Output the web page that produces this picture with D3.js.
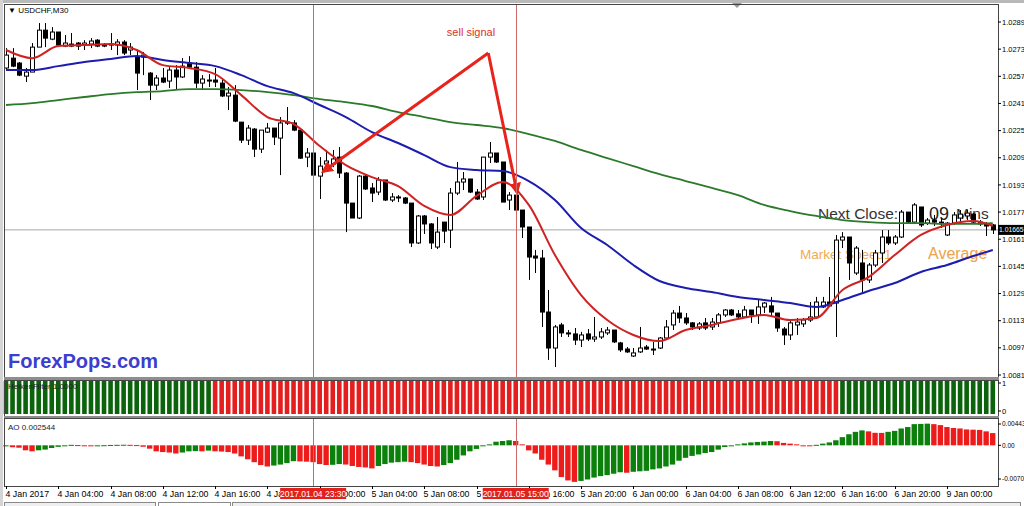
<!DOCTYPE html>
<html>
<head>
<meta charset="utf-8">
<script src="https://cdn.jsdelivr.net/npm/d3@7"></script>
<style>
  body { margin: 0; background: #fff; }
  svg text { font-family: "Liberation Sans", Arial, sans-serif; }
</style>
</head>
<body>
<script>
// USDCHF M30, 4 Jan 2017 00:00 .. 9 Jan 2017 03:30, one value per bar
const openP = [1.02619,1.02677,1.02648,1.02571,1.02595,1.02742,1.02842,1.02789,1.02831,1.02748,1.02760,1.02766,1.02754,1.02760,1.02783,1.02754,1.02754,1.02754,1.02772,1.02725,
  1.02683,1.02683,1.02589,1.02518,1.02560,1.02542,1.02607,1.02566,1.02648,1.02624,1.02530,1.02548,1.02548,1.02530,1.02454,1.02459,1.02300,1.02194,1.02259,1.02141,
  1.02241,1.02265,1.02206,1.02300,1.02295,1.02253,1.02094,1.02118,1.01982,1.02053,1.02053,1.02094,1.02000,1.01823,1.01735,1.01982,1.01912,1.01888,1.01959,1.01841,
  1.01859,1.01853,1.01823,1.01588,1.01747,1.01700,1.01564,1.01711,1.01664,1.01882,1.01947,1.01965,1.01888,1.01859,1.02094,1.02118,1.02065,1.01841,1.01870,1.01782,
  1.01682,1.01511,1.01499,1.01181,1.00969,1.01105,1.01058,1.01052,1.01016,1.01052,1.01022,1.01034,1.01058,1.01075,1.00999,1.00963,1.00922,1.00946,1.00975,1.00963,
  1.00969,1.01028,1.01105,1.01175,1.01146,1.01117,1.01087,1.01117,1.01093,1.01117,1.01164,1.01193,1.01170,1.01152,1.01193,1.01164,1.01211,1.01217,1.01175,1.01081,
  1.01046,1.01105,1.01111,1.01134,1.01152,1.01211,1.01240,1.01234,1.01605,1.01623,1.01411,1.01470,1.01370,1.01458,1.01529,1.01623,1.01588,1.01623,1.01770,1.01711,
  1.01800,1.01705,1.01723,1.01711,1.01635,1.01705,1.01735,1.01747,1.01758,1.01711,1.01700,1.01694];
const highP = [1.02736,1.02736,1.02654,1.02619,1.02766,1.02884,1.02884,1.02860,1.02831,1.02813,1.02825,1.02772,1.02783,1.02795,1.02789,1.02766,1.02825,1.02789,1.02783,1.02766,
  1.02725,1.02713,1.02595,1.02577,1.02619,1.02624,1.02636,1.02677,1.02689,1.02654,1.02577,1.02583,1.02619,1.02560,1.02507,1.02518,1.02300,1.02283,1.02265,1.02253,
  1.02295,1.02265,1.02330,1.02389,1.02312,1.02253,1.02147,1.02118,1.02094,1.02136,1.02136,1.02153,1.02006,1.01823,1.01988,1.01988,1.01941,1.01976,1.01959,1.01882,
  1.01870,1.01859,1.01823,1.01753,1.01753,1.01705,1.01741,1.01711,1.01912,1.02065,1.02006,1.01965,1.01906,1.02094,1.02183,1.02118,1.02065,1.01888,1.01870,1.01782,
  1.01682,1.01547,1.01547,1.01311,1.01105,1.01117,1.01075,1.01087,1.01064,1.01081,1.01152,1.01087,1.01093,1.01075,1.01005,1.00975,1.00969,1.01093,1.00987,1.01005,
  1.01034,1.01134,1.01193,1.01217,1.01175,1.01122,1.01122,1.01146,1.01146,1.01175,1.01199,1.01199,1.01193,1.01217,1.01193,1.01252,1.01240,1.01270,1.01175,1.01093,
  1.01134,1.01146,1.01146,1.01240,1.01270,1.01270,1.01387,1.01635,1.01652,1.01623,1.01570,1.01547,1.01470,1.01547,1.01664,1.01664,1.01635,1.01782,1.01770,1.01823,
  1.01800,1.01735,1.01753,1.01735,1.01711,1.01770,1.01782,1.01782,1.01764,1.01723,1.01711,1.01700];
const lowP = [1.02607,1.02624,1.02571,1.02536,1.02595,1.02742,1.02742,1.02783,1.02742,1.02742,1.02742,1.02725,1.02725,1.02736,1.02742,1.02742,1.02725,1.02695,1.02695,1.02695,
  1.02489,1.02577,1.02430,1.02489,1.02530,1.02501,1.02489,1.02560,1.02619,1.02501,1.02489,1.02507,1.02507,1.02448,1.02371,1.02300,1.02177,1.02165,1.02094,1.02118,
  1.02236,1.02165,1.01988,1.02283,1.02247,1.02083,1.02035,1.01982,1.01847,1.02041,1.02035,1.01971,1.01652,1.01735,1.01729,1.01900,1.01829,1.01870,1.01835,1.01829,
  1.01829,1.01817,1.01564,1.01582,1.01641,1.01552,1.01552,1.01588,1.01558,1.01870,1.01900,1.01882,1.01841,1.01841,1.02059,1.02059,1.01829,1.01782,1.01782,1.01617,
  1.01370,1.01411,1.01093,1.00899,1.00857,1.01034,1.01034,1.00987,1.00975,1.01010,1.01005,1.01022,1.01046,1.00999,1.00946,1.00940,1.00916,1.00940,1.00958,1.00928,
  1.00963,1.01016,1.01075,1.01117,1.01105,1.01075,1.01075,1.01075,1.01075,1.01093,1.01152,1.01158,1.01146,1.01146,1.01117,1.01111,1.01175,1.01152,1.01064,1.00987,
  1.01016,1.01046,1.01093,1.01122,1.01152,1.01205,1.01211,1.01034,1.01558,1.01370,1.01399,1.01293,1.01352,1.01446,1.01470,1.01576,1.01576,1.01617,1.01705,1.01705,
  1.01682,1.01694,1.01688,1.01676,1.01629,1.01694,1.01711,1.01723,1.01700,1.01688,1.01629,1.01641];
const closeP = [1.02695,1.02630,1.02577,1.02595,1.02742,1.02842,1.02795,1.02831,1.02754,1.02766,1.02748,1.02748,1.02766,1.02778,1.02748,1.02750,1.02760,1.02772,1.02707,1.02742,
  1.02589,1.02695,1.02518,1.02560,1.02536,1.02607,1.02566,1.02630,1.02624,1.02530,1.02554,1.02546,1.02536,1.02454,1.02471,1.02306,1.02194,1.02265,1.02141,1.02253,
  1.02265,1.02212,1.02295,1.02295,1.02253,1.02088,1.02118,1.01988,1.02041,1.02071,1.02083,1.02000,1.01823,1.01735,1.01982,1.01906,1.01882,1.01959,1.01841,1.01859,
  1.01853,1.01823,1.01588,1.01747,1.01700,1.01588,1.01652,1.01658,1.01882,1.01947,1.01965,1.01888,1.01847,1.02094,1.02118,1.02065,1.01829,1.01870,1.01782,1.01682,
  1.01505,1.01499,1.01181,1.00969,1.01093,1.01058,1.01052,1.01016,1.01046,1.01022,1.01034,1.01064,1.01075,1.01005,1.00958,1.00946,1.00940,1.00969,1.00963,1.00958,
  1.01028,1.01093,1.01175,1.01146,1.01117,1.01093,1.01111,1.01087,1.01122,1.01164,1.01193,1.01164,1.01152,1.01193,1.01164,1.01211,1.01234,1.01181,1.01087,1.01046,
  1.01117,1.01122,1.01134,1.01152,1.01240,1.01240,1.01217,1.01605,1.01623,1.01470,1.01558,1.01370,1.01458,1.01529,1.01623,1.01588,1.01623,1.01770,1.01711,1.01812,
  1.01694,1.01723,1.01711,1.01700,1.01705,1.01753,1.01758,1.01764,1.01711,1.01700,1.01688,1.01665];

// moving averages, read every 4 bars
const maBars = [0,4,8,12,16,20,24,28,32,36,40,44,48,52,56,60,64,68,72,76,80,84,88,92,96,100,104,108,112,116,120,124,128,132,136,140,144,148,151];
const fastMA = [1.02725,1.02677,1.02748,1.02754,1.02760,1.02725,1.02636,1.02619,1.02583,1.02459,1.02330,1.02289,1.02159,1.02047,1.01976,1.01923,1.01806,1.01753,1.01865,1.01947,
  1.01812,1.01517,1.01281,1.01134,1.01046,1.01010,1.01075,1.01105,1.01140,1.01164,1.01134,1.01146,1.01311,1.01387,1.01517,1.01635,1.01694,1.01717,1.01688];
const midMA = [1.02607,1.02607,1.02630,1.02654,1.02672,1.02689,1.02666,1.02648,1.02630,1.02577,1.02512,1.02471,1.02401,1.02330,1.02241,1.02177,1.02106,1.02035,1.02018,1.02012,
  1.01953,1.01841,1.01676,1.01576,1.01458,1.01364,1.01323,1.01299,1.01270,1.01252,1.01234,1.01211,1.01252,1.01305,1.01352,1.01417,1.01458,1.01511,1.01547];
const slowMA = [1.02401,1.02412,1.02430,1.02448,1.02465,1.02477,1.02483,1.02495,1.02495,1.02489,1.02477,1.02459,1.02436,1.02418,1.02395,1.02359,1.02330,1.02300,1.02283,1.02265,
  1.02230,1.02189,1.02136,1.02088,1.02041,1.01994,1.01953,1.01912,1.01870,1.01812,1.01776,1.01747,1.01723,1.01711,1.01705,1.01705,1.01700,1.01700,1.01705];

// filter state runs: [bars, up]
const filterRuns = [[32, 1], [96, 0], [24, 1]];

// Awesome Oscillator per bar
const aoValues = [-0.0002,-0.0004,-0.0005,-0.00104,-0.00125,-0.00104,-0.00089,-0.00056,-0.00031,-0.0001,0.0001,0.00005,-0.0001,-0.0002,-0.0001,0.00002,0.00008,0.0001,0.00012,0.0001,
  0.00005,-0.0003,-0.0007,-0.00125,-0.0014,-0.0015,-0.0017,-0.0015,-0.00125,-0.0012,-0.00125,-0.0011,-0.00125,-0.0013,-0.0014,-0.0017,-0.0023,-0.0029,-0.0035,-0.0041,
  -0.0044,-0.0042,-0.0040,-0.0037,-0.0033,-0.00335,-0.0034,-0.0035,-0.0039,-0.0041,-0.00405,-0.0039,-0.0040,-0.0043,-0.0045,-0.0046,-0.0048,-0.0043,-0.0039,-0.0036,
  -0.0035,-0.0034,-0.0035,-0.0037,-0.0040,-0.0043,-0.0044,-0.0041,-0.0037,-0.0030,-0.0021,-0.00125,-0.00075,-0.0002,0.0002,0.00075,0.0009,0.00105,0.0009,0.0002,
  -0.00105,-0.0017,-0.0030,-0.0040,-0.0052,-0.0066,-0.0073,-0.0076,-0.0074,-0.0071,-0.0067,-0.0064,-0.0062,-0.0059,-0.0056,-0.0057,-0.0055,-0.0054,-0.0053,-0.0050,
  -0.0048,-0.0044,-0.0040,-0.0032,-0.0026,-0.0022,-0.0019,-0.0016,-0.0014,-0.0009,-0.00035,-0.0001,0.0002,0.0004,0.0006,0.0007,0.00077,0.0009,0.00085,0.0005,
  0.00035,0.0002,0.0000,-0.00006,0.0001,0.00035,0.0006,0.00105,0.0017,0.0023,0.0028,0.0031,0.0029,0.0026,0.00258,0.0028,0.0030,0.0035,0.0038,0.0044,
  0.00445,0.0045,0.0044,0.0042,0.0038,0.0036,0.0035,0.0033,0.00325,0.0032,0.0029,0.002544];

const priceTicks = [1.0289,1.0273,1.0257,1.0241,1.0225,1.0209,1.0193,1.0177,1.0161,1.0145,1.0129,1.0113,1.0097,1.0081];
const priceTickLabels = ["1.0289","1.0273","1.0257","1.0241","1.0225","1.0209","1.0193","1.0177","1.0161","1.0145","1.0129","1.0113","1.0097","1.0081"];
const aoTicks = [0.00443, 0, -0.0070];
const aoTickLabels = ["0.00443", "0.00", "-0.0070"];
const timeLabels = ["4 Jan 2017","4 Jan 04:00","4 Jan 08:00","4 Jan 12:00","4 Jan 16:00","4 Jan 20:00","5 Jan 00:00","5 Jan 04:00","5 Jan 08:00","5 Jan 12:00",
  "5 Jan 16:00","5 Jan 20:00","6 Jan 00:00","6 Jan 04:00","6 Jan 08:00","6 Jan 12:00","6 Jan 16:00","6 Jan 20:00","9 Jan 00:00"];
const barsPerLabel = 8;

// vertical marker lines
const markerBars = [47, 78];
const markerLabels = ["2017.01.04 23:30", "2017.01.05 15:00"];
// sell signal drawing: [bar, price]
const signalLeft = [48.5, 1.02008];
const signalTop = [73.8, 1.02707];
const signalRight = [78.2, 1.01885];
const currentPrice = 1.01665;

const W = 1024, H = 506;
const left = 4, right = 998;
const main = { top: 4, bottom: 377 };
const filt = { top: 380, bottom: 416 };
const aoP = { top: 418, bottom: 486 };

const svg = d3.select("body").append("svg")
  .attr("width", W).attr("height", H)
  .style("display", "block");

svg.append("rect").attr("width", W).attr("height", H).attr("fill", "#fff");
// window frame
svg.append("rect").attr("x", 0).attr("y", 0).attr("width", W).attr("height", 3).attr("fill", "#b9b9b9");
svg.append("rect").attr("x", 0).attr("y", 0).attr("width", 3).attr("height", H).attr("fill", "#d4d4d4");
svg.append("path").attr("d", "M732,3 L742,3 L737,8 Z").attr("fill", "#9a9a9a");

const x = d3.scaleLinear().domain([0, 151]).range([6, 6 + 151 * 6.535]);
const y = d3.scaleLinear().domain([1.0081, 1.0289]).range([375, 22]);
const yF = d3.scaleLinear().domain([0, 1]).range([filt.bottom - 2, filt.top + 1]);
const yA = d3.scaleLinear().domain([-0.0070, 0.00443]).range([479, 424]);

const boxW = 66;
const defs = svg.append("defs");
defs.append("clipPath").attr("id", "clipMain").append("rect")
  .attr("x", left).attr("y", main.top).attr("width", right - left).attr("height", main.bottom - main.top);
defs.append("marker").attr("id", "arrowHead")
  .attr("viewBox", "0 0 10 10").attr("refX", 8).attr("refY", 5)
  .attr("markerWidth", 4).attr("markerHeight", 4).attr("orient", "auto")
  .append("path").attr("d", "M0,0 L10,5 L0,10 Z").attr("fill", "#e8231c");
// time labels are hidden under the red marker boxes
const gaps = [0].concat(markerBars.flatMap(b => [x(b) - boxW / 2, x(b) + boxW / 2])).concat([W]);
const timeClip = defs.append("clipPath").attr("id", "clipTime");
for (let k = 0; k < gaps.length; k += 2) {
  timeClip.append("rect").attr("x", gaps[k]).attr("y", 486).attr("width", gaps[k + 1] - gaps[k]).attr("height", 16);
}

// ---------- main panel ----------
const g = svg.append("g").attr("clip-path", "url(#clipMain)");

g.append("line")
  .attr("x1", left).attr("x2", right)
  .attr("y1", y(currentPrice)).attr("y2", y(currentPrice))
  .attr("stroke", "#a8a8a8").attr("stroke-width", 1);

// text objects sit behind the candles
g.append("text").attr("x", 818).attr("y", 219)
  .attr("font-size", 15.5).attr("fill", "#333").text("Next Close:");
g.append("text").attr("x", 929).attr("y", 220)
  .attr("font-size", 18).attr("fill", "#222").text("09");
g.append("text").attr("x", 956).attr("y", 219)
  .attr("font-size", 15.5).attr("fill", "#333").text("Mins");
g.append("text").attr("x", 800).attr("y", 259)
  .attr("font-size", 13.5).attr("fill", "#f0aa55").text("Market Speed1");
g.append("text").attr("x", 928).attr("y", 259)
  .attr("font-size", 16).attr("fill", "#eea24a").text("Average");

const bars = d3.range(openP.length);

g.selectAll("line.wick").data(bars).enter().append("line")
  .attr("class", "wick")
  .attr("x1", i => Math.round(x(i)) + 0.5).attr("x2", i => Math.round(x(i)) + 0.5)
  .attr("y1", i => y(highP[i])).attr("y2", i => y(lowP[i]))
  .attr("stroke", "#000").attr("stroke-width", 1);

g.selectAll("rect.body").data(bars).enter().append("rect")
  .attr("class", "body")
  .attr("x", i => Math.round(x(i)) - 1.5)
  .attr("width", 4)
  .attr("y", i => y(Math.max(openP[i], closeP[i])))
  .attr("height", i => Math.max(1, Math.abs(y(openP[i]) - y(closeP[i]))))
  .attr("fill", i => closeP[i] >= openP[i] ? "#fff" : "#000")
  .attr("stroke", "#000").attr("stroke-width", 1);

const maLine = vals => d3.line()
  .x((d, k) => x(maBars[k]))
  .y(d => y(d))
  .curve(d3.curveMonotoneX)(vals);

g.append("path").attr("d", maLine(slowMA)).attr("fill", "none").attr("stroke", "#2b7a2b").attr("stroke-width", 1.8);
g.append("path").attr("d", maLine(midMA)).attr("fill", "none").attr("stroke", "#1c1cae").attr("stroke-width", 2);
g.append("path").attr("d", maLine(fastMA)).attr("fill", "none").attr("stroke", "#d02222").attr("stroke-width", 2);

// sell signal sketch
[[signalTop, signalLeft], [signalTop, signalRight]].forEach(([a, b]) => {
  g.append("line")
    .attr("x1", x(a[0])).attr("y1", y(a[1]))
    .attr("x2", x(b[0])).attr("y2", y(b[1]))
    .attr("stroke", "#e8231c").attr("stroke-width", 3)
    .attr("marker-end", "url(#arrowHead)");
});
g.append("text").attr("x", 471).attr("y", 36).attr("text-anchor", "middle")
  .attr("font-size", 11).attr("fill", "#e03028").text("sell signal");

g.append("text").attr("x", 8).attr("y", 368)
  .attr("font-family", "DejaVu Sans").attr("font-weight", "bold")
  .attr("font-size", 20).attr("fill", "#3b3ecf").text("ForexPops.com");

g.append("text").attr("x", 8).attr("y", 13)
  .attr("font-size", 8).attr("fill", "#000").text("\u25BC USDCHF,M30");

// ---------- filter panel ----------
const filterState = [];
filterRuns.forEach(([n, up]) => { for (let k = 0; k < n; k++) filterState.push(up); });

svg.append("g").selectAll("rect").data(filterState).enter().append("rect")
  .attr("x", (d, i) => x(i) - 2.3)
  .attr("width", 4.6)
  .attr("y", yF(1))
  .attr("height", yF(0) - yF(1))
  .attr("fill", d => d ? "#0b640b" : "#e41e1e");

svg.append("text").attr("x", 8).attr("y", 389)
  .attr("font-size", 8).attr("fill", "#222").text("HeikenFilter 1.0000");

// ---------- AO panel ----------
svg.append("g").selectAll("rect").data(aoValues).enter().append("rect")
  .attr("x", (d, i) => x(i) - 2.8)
  .attr("width", 5.4)
  .attr("y", d => Math.min(yA(d), yA(0)))
  .attr("height", d => Math.max(1, Math.abs(yA(d) - yA(0))))
  .attr("fill", (d, i) => i > 0 && d < aoValues[i - 1] ? "#ee1b1b" : "#0b800b");

svg.append("text").attr("x", 8).attr("y", 430)
  .attr("font-size", 8).attr("fill", "#222").text("AO " + aoValues[aoValues.length - 1].toFixed(6));

// ---------- marker lines ----------
markerBars.forEach(b => {
  [[main.top, main.bottom], [aoP.top, aoP.bottom]].forEach(([t, bt]) => {
    svg.append("line")
      .attr("x1", Math.round(x(b)) + 0.5).attr("x2", Math.round(x(b)) + 0.5)
      .attr("y1", t).attr("y2", bt)
      .attr("stroke", "#cf6a6a").attr("stroke-width", 1);
  });
});

// ---------- frames ----------
[[main.top, main.bottom], [filt.top, filt.bottom], [aoP.top, aoP.bottom]].forEach(([t, b]) => {
  svg.append("rect").attr("x", left + 0.5).attr("y", t + 0.5)
    .attr("width", right - left).attr("height", b - t)
    .attr("fill", "none").attr("stroke", "#444").attr("stroke-width", 1);
});
svg.append("rect").attr("x", left).attr("y", main.bottom).attr("width", right - left + 1).attr("height", 3).attr("fill", "#8e8e8e");
svg.append("rect").attr("x", left).attr("y", filt.bottom).attr("width", right - left + 1).attr("height", 2).attr("fill", "#8e8e8e");

// ---------- right axes ----------
const axisText = (yy, txt, size) => {
  svg.append("line").attr("x1", right).attr("x2", right + 3).attr("y1", yy).attr("y2", yy).attr("stroke", "#000");
  svg.append("text").attr("x", right + 4).attr("y", yy).attr("dy", "0.35em")
    .attr("font-size", size || 7.5).attr("fill", "#000").text(txt);
};
priceTicks.forEach((p, k) => axisText(y(p), priceTickLabels[k]));
axisText(yF(1) + 2, "1");
axisText(yF(0) - 3, "0");
aoTicks.forEach((v, k) => axisText(yA(v), aoTickLabels[k], 6.5));

svg.append("rect").attr("x", right).attr("y", y(currentPrice) - 5).attr("width", W - right).attr("height", 10).attr("fill", "#000");
svg.append("text").attr("x", right + 1).attr("y", y(currentPrice)).attr("dy", "0.35em")
  .attr("font-size", 6.8).attr("fill", "#fff").text(currentPrice.toFixed(5));

// ---------- time axis ----------
const gt = svg.append("g").attr("clip-path", "url(#clipTime)");
timeLabels.forEach((t, k) => {
  const xx = Math.round(x(k * barsPerLabel)) + 0.5;
  svg.append("line").attr("x1", xx).attr("x2", xx).attr("y1", aoP.bottom).attr("y2", aoP.bottom + 3).attr("stroke", "#000");
  gt.append("text").attr("x", xx - 1).attr("y", 497)
    .attr("font-size", 8.8).attr("fill", "#000").text(t);
});
markerBars.forEach((b, k) => {
  const xx = x(b);
  svg.append("rect").attr("x", xx - boxW / 2).attr("y", 488).attr("width", boxW).attr("height", 11).attr("fill", "#e2201c");
  svg.append("text").attr("x", xx).attr("y", 497).attr("text-anchor", "middle")
    .attr("font-size", 8.5).attr("fill", "#fff").text(markerLabels[k]);
});

// bottom tabs
[[4, 155, "#efefef"], [158, 230, "#fff"], [232, 1020, "#efefef"]].forEach(([a, b, c]) => {
  svg.append("rect").attr("x", a + 0.5).attr("y", 502.5).attr("width", b - a).attr("height", 6)
    .attr("fill", c).attr("stroke", "#8a8a8a");
});
</script>
</body>
</html>
